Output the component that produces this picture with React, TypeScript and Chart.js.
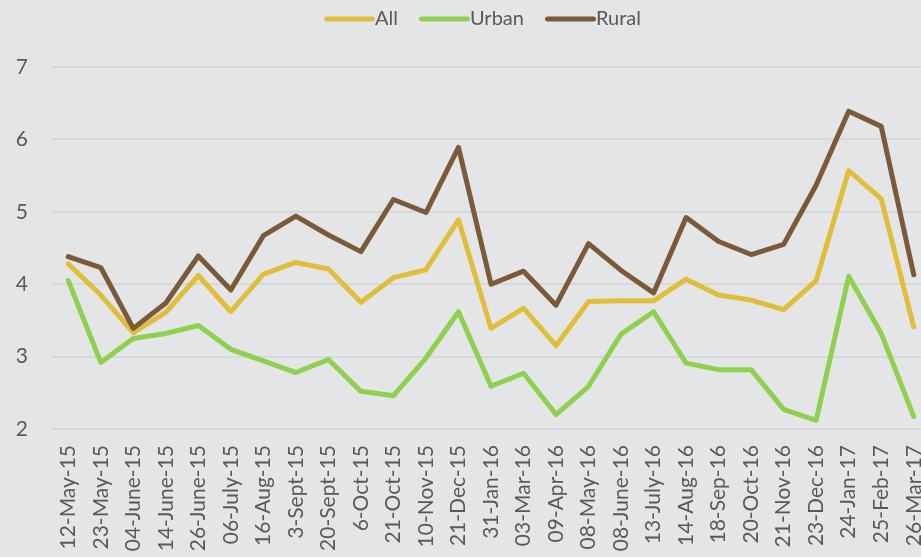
import React, { useEffect, useRef } from "react";
import { Chart, registerables } from "chart.js";

Chart.register(...registerables);

const categories = [
  "12-May-15", "23-May-15", "04-June-15", "14-June-15", "26-June-15", "06-July-15",
  "16-Aug-15", "3-Sept-15", "20-Sept-15", "6-Oct-15", "21-Oct-15", "10-Nov-15",
  "21-Dec-15", "31-Jan-16", "03-Mar-16", "09-Apr-16", "08-May-16", "08-June-16",
  "13-July-16", "14-Aug-16", "18-Sep-16", "20-Oct-16", "21-Nov-16", "23-Dec-16",
  "24-Jan-17", "25-Feb-17", "26-Mar-17",
];

const allValues = [
  4.28, 3.85, 3.33, 3.61, 4.12, 3.62, 4.14, 4.30, 4.21, 3.75, 4.09, 4.20, 4.89,
  3.39, 3.67, 3.15, 3.76, 3.77, 3.77, 4.07, 3.85, 3.78, 3.65, 4.05, 5.57, 5.18, 3.41,
];

const urbanValues = [
  4.05, 2.92, 3.25, 3.32, 3.43, 3.10, 2.94, 2.78, 2.96, 2.52, 2.46, 2.98, 3.62,
  2.59, 2.77, 2.20, 2.59, 3.31, 3.62, 2.91, 2.82, 2.82, 2.27, 2.12, 4.11, 3.32, 2.17,
];

const ruralValues = [
  4.38, 4.23, 3.39, 3.74, 4.39, 3.92, 4.67, 4.94, 4.68, 4.45, 5.17, 4.99, 5.89,
  4.00, 4.18, 3.71, 4.56, 4.19, 3.88, 4.92, 4.59, 4.41, 4.55, 5.37, 6.39, 6.18, 4.13,
];

const yTicks = [2, 3, 4, 5, 6, 7];

const COLORS = {
  all: "#e0be3c",
  urban: "#8fd14f",
  rural: "#7a5a38",
  bg: "#e4e5e7",
  grid: "#d7d8da",
  text: "#595959",
};

const FONT = "Lato, 'Open Sans', sans-serif";

function legendLine(color: string): HTMLCanvasElement {
  const c = document.createElement("canvas");
  c.width = 62;
  c.height = 6;
  const ctx = c.getContext("2d");
  if (ctx) {
    ctx.strokeStyle = color;
    ctx.lineWidth = 5;
    ctx.lineCap = "round";
    ctx.beginPath();
    ctx.moveTo(13.5, 3);
    ctx.lineTo(59.5, 3);
    ctx.stroke();
  }
  return c;
}

export default function App() {
  const canvasRef = useRef<HTMLCanvasElement | null>(null);

  useEffect(() => {
    const canvas = canvasRef.current;
    if (!canvas) return;

    const legendSpacer = {
      id: "legendSpacer",
      beforeInit(chart: any) {
        const legend = chart.legend;
        if (!legend) return;
        const origFit = legend.fit;
        legend.fit = function () {
          origFit.call(this);
          this.height += 28;
        };
      },
      afterLayout(chart: any) {
        const legend = chart.legend;
        if (!legend) return;
        legend.left += 17;
        legend.right += 17;
      },
    };

    const mk = (label: string, data: number[], color: string, order: number) => ({
      label,
      data,
      order,
      borderColor: color,
      backgroundColor: color,
      borderWidth: 5,
      pointRadius: 0,
      pointHoverRadius: 0,
      tension: 0,
      borderCapStyle: "round" as const,
      borderJoinStyle: "round" as const,
      pointStyle: legendLine(color),
    });

    const chart = new Chart(canvas, {
      type: "line",
      data: {
        labels: categories,
        datasets: [
          mk("All", allValues, COLORS.all, 1),
          mk("Urban", urbanValues, COLORS.urban, 2),
          mk("Rural", ruralValues, COLORS.rural, 0),
        ],
      },
      plugins: [legendSpacer],
      options: {
        animation: false,
        responsive: false,
        layout: { padding: { left: 0, right: 0, top: -11, bottom: 0 } },
        plugins: {
          tooltip: { enabled: false },
          legend: {
            position: "top",
            labels: {
              color: COLORS.text,
              font: { family: FONT, size: 20 },
              usePointStyle: true,
              pointStyleWidth: 42,
              boxHeight: 5,
              padding: 20,
              generateLabels(chart: any) {
                const items = Chart.defaults.plugins.legend.labels.generateLabels(chart);
                items.sort((a: any, b: any) => a.datasetIndex - b.datasetIndex);
                return items.map((it: any) => ({
                  ...it,
                  lineWidth: 0,
                  pointStyle: chart.data.datasets[it.datasetIndex].pointStyle,
                }));
              },
            },
          },
        },
        scales: {
          x: {
            offset: true,
            grid: { display: false, drawTicks: false },
            border: { display: false },
            ticks: {
              color: COLORS.text,
              font: { family: FONT, size: 21 },
              maxRotation: 90,
              minRotation: 90,
              autoSkip: false,
              padding: 16,
            },
            afterFit(scale: any) {
              scale.height = 128;
              scale.paddingLeft = 0;
              scale.paddingRight = 0;
            },
          },
          y: {
            min: 2,
            max: 7,
            grid: { color: COLORS.grid, lineWidth: 2, drawTicks: false },
            border: { display: false },
            ticks: {
              stepSize: 1,
              color: COLORS.text,
              font: { family: FONT, size: 21 },
              padding: 24,
              callback: (v: any) => (yTicks.includes(Number(v)) ? String(v) : ""),
            },
            afterFit(scale: any) {
              scale.width = 52;
              scale.paddingTop = 0;
              scale.paddingBottom = 0;
            },
          },
        },
      },
    });

    return () => chart.destroy();
  }, []);

  return (
    <div
      style={{
        position: "fixed",
        left: 0,
        top: 0,
        width: 921,
        height: 557,
        overflow: "hidden",
        background: COLORS.bg,
      }}
    >
      <canvas
        ref={canvasRef}
        width={930}
        height={557}
        style={{ display: "block", width: 930, height: 557 }}
      />
    </div>
  );
}
